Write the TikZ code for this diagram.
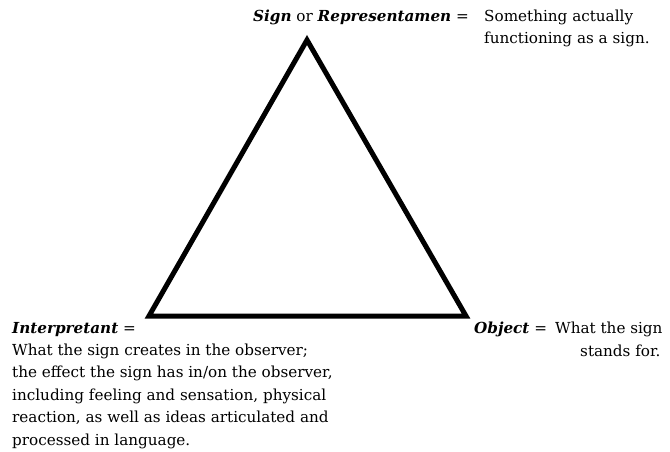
\documentclass[tikz,border=0pt]{standalone}
\usepackage{fontspec}
\setmainfont{DejaVu Serif}
\usetikzlibrary{positioning}
\newcommand{\trm}[1]{\textbf{\textit{#1}}}
\tikzset{
  lbl/.style={font=\fontsize{15.2}{22.6}\selectfont,inner sep=0pt,align=left},
  side/.style={line width=5pt,line join=miter}
}

\begin{document}
\begin{tikzpicture}[x=1pt,y=-1pt]
\useasboundingbox (0,0) rectangle (670,452);
% the three corners
\coordinate (sign) at (307,40);
\coordinate (interp) at (149,316);
\coordinate (object) at (466,316);
\draw[side] (sign) -- (interp) -- (object) -- cycle;

% top corner
\node[lbl,anchor=base west] (signlbl) at (253,22) {\trm{Sign} or \trm{Representamen} =};
\node[lbl,anchor=base west] (signdef) at (484,44) {Something actually\\functioning as a sign.};

% left corner
\node[lbl,anchor=base west] (interplbl) at (12,333) {\trm{Interpretant} =};
\node[lbl,below=7pt of interplbl.south west,anchor=north west] (interpdef) {What the sign creates in the observer;\\
the effect the sign has in/on the observer,\\
including feeling and sensation, physical\\
reaction, as well as ideas articulated and\\
processed in language.};

% right corner
\node[lbl,anchor=base west] (objlbl) at (474,333) {\trm{Object} =};
\node[lbl,anchor=base west] (objdef) at (555,356) {What the sign\\\hspace*{25pt}stands for.};
\end{tikzpicture}
\end{document}
